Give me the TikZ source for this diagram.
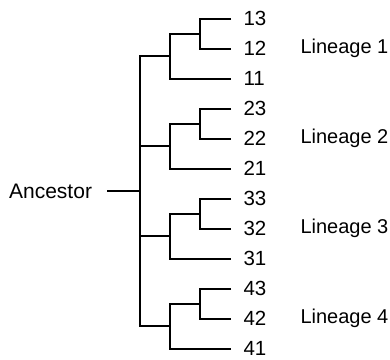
\documentclass[tikz,border=0pt]{standalone}
\usepackage{fontspec}
\setmainfont{Liberation Sans}
\begin{document}
\begin{tikzpicture}[x=1pt,y=-1pt,line width=2pt]
\tikzstyle{leaf} = [
 anchor=west,
 inner sep=11.5pt,
 font=\fontsize{20.5}{24}\selectfont
]
\tikzstyle{lineage} = [
 anchor=west,
 inner sep=0pt,
 font=\fontsize{20}{24}\selectfont
]
\useasboundingbox (0,0) rectangle (390,359);

\node[leaf] at (231,18.5)  (l13) {13};
\node[leaf] at (231,48.5)  (l12) {12};
\node[leaf] at (231,78.5)  (l11) {11};
\node[leaf] at (231,108.5) (l23) {23};
\node[leaf] at (231,138.5) (l22) {22};
\node[leaf] at (231,168.5) (l21) {21};
\node[leaf] at (231,198.5) (l33) {33};
\node[leaf] at (231,228.5) (l32) {32};
\node[leaf] at (231,258.5) (l31) {31};
\node[leaf] at (231,288.5) (l43) {43};
\node[leaf] at (231,318.5) (l42) {42};
\node[leaf] at (231,348.5) (l41) {41};

\node[lineage] at (299.5,48.5)  (lin1) {Lineage 1};
\node[lineage] at (299.5,138.5) (lin2) {Lineage 2};
\node[lineage] at (299.5,228.5) (lin3) {Lineage 3};
\node[lineage] at (299.5,318.5) (lin4) {Lineage 4};

\coordinate (i1) at (199.5,33.5);
\coordinate (i2) at (199.5,123.5);
\coordinate (i3) at (199.5,213.5);
\coordinate (i4) at (199.5,303.5);
\coordinate (g1) at (169.5,56);
\coordinate (g2) at (169.5,146);
\coordinate (g3) at (169.5,236);
\coordinate (g4) at (169.5,326);
\coordinate (r) at (139.5,191);

\node[anchor=east,inner sep=14pt,font=\fontsize{21}{24}\selectfont] at (107,191) (anc) {Ancestor};

\path[draw] (l13.west) -| (i1) |- (l12.west);
\path[draw] (l23.west) -| (i2) |- (l22.west);
\path[draw] (l33.west) -| (i3) |- (l32.west);
\path[draw] (l43.west) -| (i4) |- (l42.west);

\path[draw] (i1) -| (g1) |- (l11.west);
\path[draw] (i2) -| (g2) |- (l21.west);
\path[draw] (i3) -| (g3) |- (l31.west);
\path[draw] (i4) -| (g4) |- (l41.west);

\path[draw] (g1) -| (r) |- (g4);
\path[draw] (r) |- (g2);
\path[draw] (r) |- (g3);
\path[draw] (anc.east) -- (r);
\end{tikzpicture}
\end{document}
